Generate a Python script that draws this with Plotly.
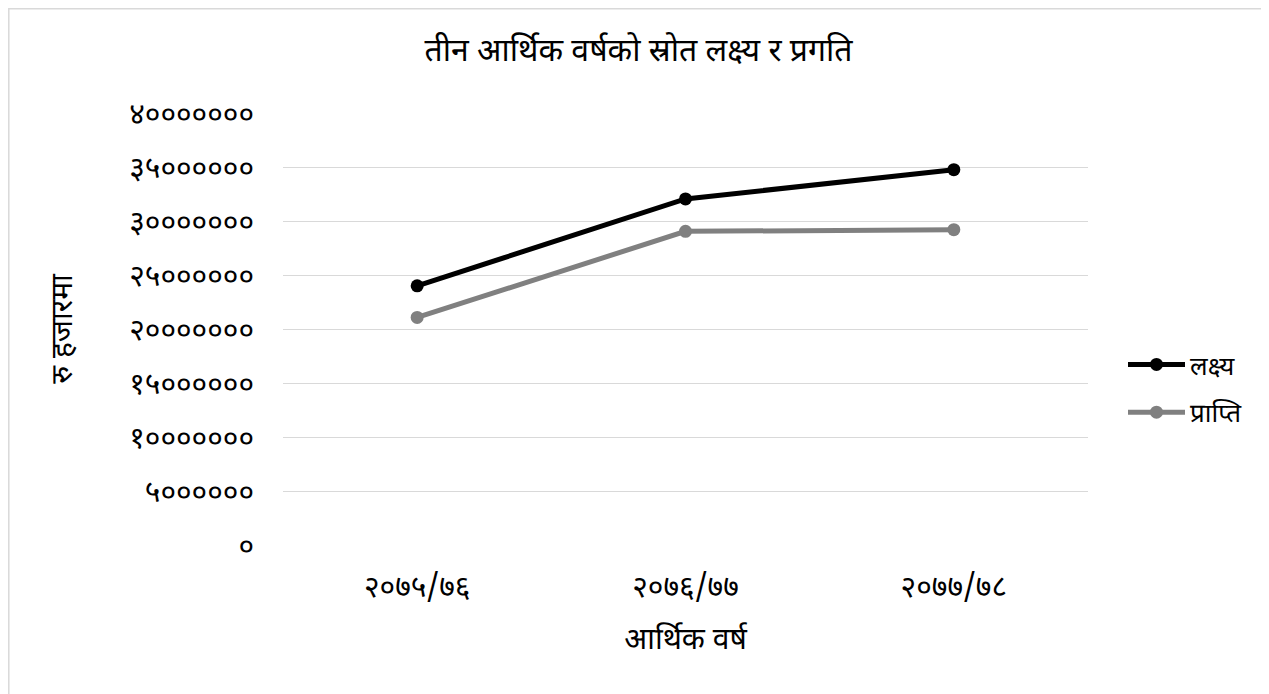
import plotly.graph_objects as go

categories = ["२०७५/७६", "२०७६/७७", "२०७७/७८"]
target = [24000000, 32040000, 34750000]
progress = [21070000, 29040000, 29200000]
y_tick_vals = [0, 5000000, 10000000, 15000000, 20000000, 25000000, 30000000, 35000000, 40000000]
y_tick_text = ["०", "५००००००", "१०००००००", "१५००००००", "२०००००००", "२५००००००", "३०००००००", "३५००००००", "४०००००००"]

FONT = "Noto Sans Devanagari, Lohit Devanagari, Kalimati, Mangal, Noto Sans, sans-serif"

fig = go.Figure()
fig.add_trace(go.Scatter(x=categories, y=target, name="लक्ष्य", mode="lines+markers", legendgroup="a",
                         line=dict(color="#000000", width=5), marker=dict(size=13, color="#000000")))
fig.add_trace(go.Scatter(x=categories, y=progress, name="प्राप्ति", mode="lines+markers", legendgroup="b",
                         line=dict(color="#808080", width=5), marker=dict(size=13, color="#808080")))

# page has an 8px body margin; figure coordinates below are page coordinates minus 8
W, H = 1261, 686
L, T = 275, 105
pw, ph = 805, 432
R, B = W - L - pw, H - T - ph

fig.update_layout(
    width=W, height=H,
    margin=dict(l=L, r=R, t=T, b=B),
    paper_bgcolor="white", plot_bgcolor="white",
    font=dict(family=FONT, size=26, color="#000000"),
    title=dict(text="तीन आर्थिक वर्षको स्रोत लक्ष्य र प्रगति", x=0.5, xanchor="center",
               y=1 - 42 / H, yanchor="middle", font=dict(size=32)),
    xaxis=dict(range=[-0.5, 2.5], showgrid=False, showline=False, zeroline=False, ticks="",
               tickfont=dict(size=30), ticklabelstandoff=21,
               title=dict(text="आर्थिक वर्ष", font=dict(size=30), standoff=19)),
    yaxis=dict(range=[0, 40000000], tickvals=y_tick_vals, ticktext=y_tick_text,
               showgrid=True, gridcolor="#d9d9d9", gridwidth=1.3, zeroline=False, showline=False,
               ticks="", tickfont=dict(size=30), ticklabelstandoff=28,
               title=dict(text="रु हजारमा", font=dict(size=30), standoff=47)),
    legend=dict(x=(1115 - L) / pw, y=(T + ph - 380.5) / ph, xanchor="left", yanchor="middle",
                font=dict(size=26), itemwidth=57, tracegroupgap=11, bgcolor="rgba(0,0,0,0)"),
    showlegend=True,
)

fig.add_shape(type="rect", xref="paper", yref="paper",
              x0=(0.8 - L) / pw, x1=(1259 - L) / pw, y0=-(B + 10) / ph, y1=(T - 0.8) / ph + 1,
              line=dict(color="#d9d9d9", width=1.5), fillcolor="rgba(0,0,0,0)", layer="below")

fig.write_html("out.html")
